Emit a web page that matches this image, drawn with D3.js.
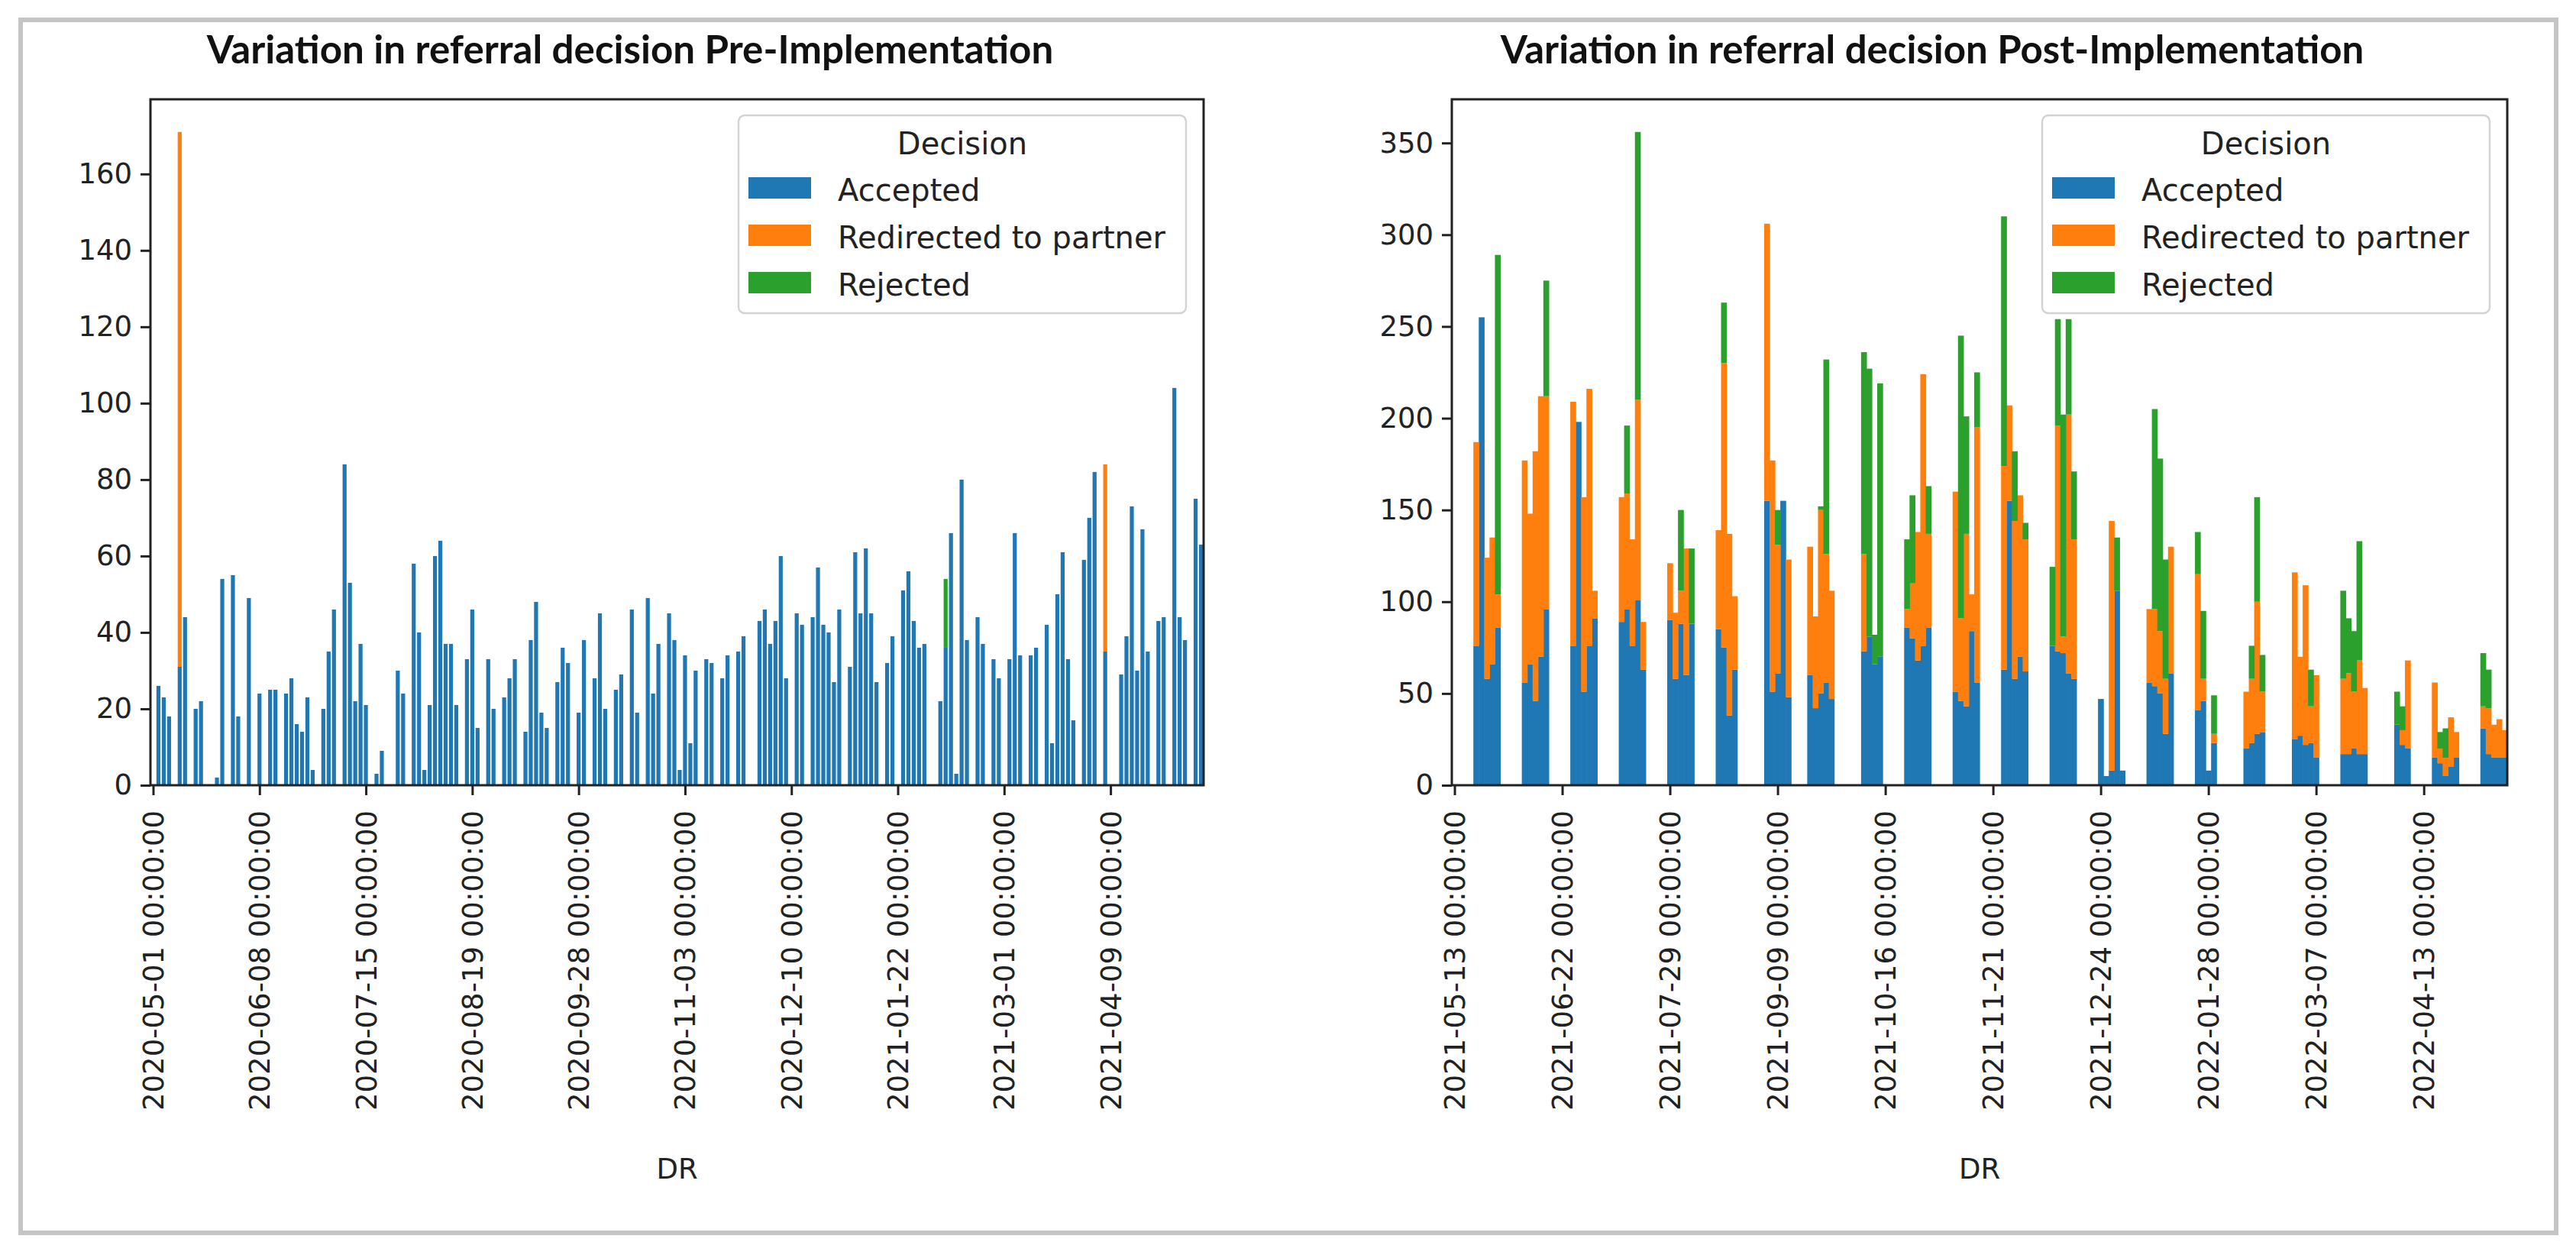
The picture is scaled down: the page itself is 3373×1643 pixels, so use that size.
<!DOCTYPE html>
<html>
<head>
<meta charset="utf-8">
<style>
    body { margin: 0; background: #fff; }
    svg { display: block; }
    .title { font-family: Lato, "Noto Sans", sans-serif; font-weight: bold; fill: #111; }
</style>
</head>
<body>
<svg id="chart"></svg>
<script src="https://cdn.jsdelivr.net/npm/d3@7"></script>
<script>
    const decisions = ["Accepted", "Redirected to partner", "Rejected"];
    const colors = ["#1f77b4", "#ff7f0e", "#2ca02c"];

    // Pre-Implementation: one value per date category (tick label every 20th category)
    const preTicks = ["2020-05-01 00:00:00", "2020-06-08 00:00:00", "2020-07-15 00:00:00", "2020-08-19 00:00:00",
        "2020-09-28 00:00:00", "2020-11-03 00:00:00", "2020-12-10 00:00:00", "2021-01-22 00:00:00",
        "2021-03-01 00:00:00", "2021-04-09 00:00:00"];
    const preAccepted = [
        0, 26, 23, 18, 0, 31, 44, 0, 20, 22, 0, 0, 2, 54, 0, 55, 18, 0, 49, 0,
        24, 0, 25, 25, 0, 24, 28, 16, 14, 23, 4, 0, 20, 35, 46, 0, 84, 53, 22, 37,
        21, 0, 3, 9, 0, 0, 30, 24, 0, 58, 40, 4, 21, 60, 64, 37, 37, 21, 0, 33,
        46, 15, 0, 33, 20, 0, 23, 28, 33, 0, 14, 38, 48, 19, 15, 0, 27, 36, 32, 0,
        19, 38, 0, 28, 45, 20, 0, 25, 29, 0, 46, 19, 0, 49, 24, 37, 0, 45, 38, 4,
        34, 11, 30, 0, 33, 32, 0, 28, 34, 0, 35, 39, 0, 0, 43, 46, 37, 43, 60, 28,
        0, 45, 42, 0, 44, 57, 42, 40, 27, 46, 0, 31, 61, 45, 62, 45, 27, 0, 32, 39,
        0, 51, 56, 43, 36, 37, 0, 0, 22, 36, 66, 3, 80, 38, 0, 44, 37, 0, 33, 28,
        0, 33, 66, 34, 0, 34, 36, 0, 42, 11, 50, 61, 33, 17, 0, 59, 70, 82, 0, 35,
        0, 0, 29, 39, 73, 30, 67, 35, 0, 43, 44, 0, 104, 44, 38, 0, 75, 63];
    const preRedirected = preAccepted.map(() => 0);
    preRedirected[5] = 140;
    preRedirected[179] = 49;
    const preRejected = preAccepted.map(() => 0);
    preRejected[149] = 18;

    // Post-Implementation
    const postTicks = ["2021-05-13 00:00:00", "2021-06-22 00:00:00", "2021-07-29 00:00:00", "2021-09-09 00:00:00",
        "2021-10-16 00:00:00", "2021-11-21 00:00:00", "2021-12-24 00:00:00", "2022-01-28 00:00:00",
        "2022-03-07 00:00:00", "2022-04-13 00:00:00"];
    const postAccepted = [
        0, 0, 0, 0, 76, 255, 58, 66, 86, 0, 0, 0, 0, 56, 66, 46, 70, 96, 0, 0,
        0, 0, 76, 198, 51, 76, 91, 0, 0, 0, 0, 89, 96, 76, 101, 63, 0, 0, 0, 0,
        90, 58, 88, 60, 88, 0, 0, 0, 0, 85, 75, 38, 63, 0, 0, 0, 0, 0, 155, 51,
        61, 155, 48, 0, 0, 0, 60, 42, 50, 56, 47, 0, 0, 0, 0, 0, 73, 81, 66, 70,
        0, 0, 0, 0, 86, 80, 68, 76, 86, 0, 0, 0, 0, 51, 46, 43, 84, 56, 0, 0,
        0, 0, 63, 155, 58, 70, 62, 0, 0, 0, 0, 76, 73, 72, 61, 58, 0, 0, 0, 0,
        47, 5, 8, 106, 8, 0, 0, 0, 0, 56, 54, 50, 28, 61, 0, 0, 0, 0, 41, 46,
        8, 23, 0, 0, 0, 0, 0, 20, 23, 28, 29, 0, 0, 0, 0, 0, 25, 27, 22, 23,
        15, 0, 0, 0, 0, 17, 17, 20, 17, 17, 0, 0, 0, 0, 0, 33, 22, 20, 0, 0,
        0, 0, 15, 12, 5, 10, 15, 0, 0, 0, 0, 31, 17, 15, 15, 15];
    const postRedirected = [
        0, 0, 0, 0, 111, 0, 66, 69, 18, 0, 0, 0, 0, 121, 82, 136, 142, 116, 0, 0,
        0, 0, 133, 0, 106, 140, 15, 0, 0, 0, 0, 68, 63, 58, 109, 26, 0, 0, 0, 0,
        31, 36, 18, 69, 0, 0, 0, 0, 0, 54, 155, 99, 40, 0, 0, 0, 0, 0, 151, 126,
        70, 0, 75, 0, 0, 0, 70, 50, 100, 70, 59, 0, 0, 0, 0, 0, 53, 0, 0, 0,
        0, 0, 0, 0, 10, 30, 70, 148, 51, 0, 0, 0, 0, 109, 45, 94, 20, 139, 0, 0,
        0, 0, 111, 52, 86, 88, 72, 0, 0, 0, 0, 0, 123, 9, 141, 76, 0, 0, 0, 0,
        0, 0, 136, 0, 0, 0, 0, 0, 0, 40, 42, 34, 30, 69, 0, 0, 0, 0, 74, 12,
        0, 5, 0, 0, 0, 0, 0, 31, 35, 72, 22, 0, 0, 0, 0, 0, 91, 43, 87, 20,
        45, 0, 0, 0, 0, 41, 44, 31, 51, 36, 0, 0, 0, 0, 0, 0, 8, 48, 0, 0,
        0, 0, 41, 8, 10, 27, 14, 0, 0, 0, 0, 12, 25, 18, 21, 15];
    const postRejected = [
        0, 0, 0, 0, 0, 0, 0, 0, 185, 0, 0, 0, 0, 0, 0, 0, 0, 63, 0, 0,
        0, 0, 0, 0, 0, 0, 0, 0, 0, 0, 0, 0, 37, 0, 146, 0, 0, 0, 0, 0,
        0, 0, 44, 0, 41, 0, 0, 0, 0, 0, 33, 0, 0, 0, 0, 0, 0, 0, 0, 0,
        19, 0, 0, 0, 0, 0, 0, 0, 2, 106, 0, 0, 0, 0, 0, 0, 110, 146, 16, 149,
        0, 0, 0, 0, 38, 48, 0, 0, 26, 0, 0, 0, 0, 0, 154, 64, 0, 30, 0, 0,
        0, 0, 136, 0, 38, 0, 9, 0, 0, 0, 0, 43, 58, 121, 52, 37, 0, 0, 0, 0,
        0, 0, 0, 29, 0, 0, 0, 0, 0, 0, 109, 94, 65, 0, 0, 0, 0, 0, 23, 37,
        0, 21, 0, 0, 0, 0, 0, 0, 18, 57, 20, 0, 0, 0, 0, 0, 0, 0, 0, 20,
        0, 0, 0, 0, 0, 48, 30, 33, 65, 0, 0, 0, 0, 0, 0, 18, 13, 0, 0, 0,
        0, 0, 0, 9, 16, 0, 0, 0, 0, 0, 0, 29, 21, 0, 0, 0];

    const W = 3373, H = 1643;
    const plotTop = 130, plotBottom = 1028;
    const ink = "#222";

    const svg = d3.select("#chart").attr("width", W).attr("height", H);

    // outer grey frame
    svg.append("rect")
        .attr("x", 27).attr("y", 26)
        .attr("width", 3320).attr("height", 1588)
        .attr("fill", "none")
        .attr("stroke", "#c4c4c4")
        .attr("stroke-width", 6);

    function panel(p) {
        const n = p.accepted.length;
        const rows = p.accepted.map((a, i) => ({
            i,
            "Accepted": a,
            "Redirected to partner": p.redirected[i],
            "Rejected": p.rejected[i]
        }));
        const layers = d3.stack().keys(decisions)(rows);
        const yMax = d3.max(rows, r => r["Accepted"] + r["Redirected to partner"] + r["Rejected"]) * 1.05;

        const x = d3.scaleLinear().domain([-0.5, n - 0.5]).range([p.left, p.right]);
        const y = d3.scaleLinear().domain([0, yMax]).range([plotBottom, plotTop]);
        const bw = x(p.barWidth) - x(0);

        const g = svg.append("g");

        // stacked bars
        g.selectAll("g.layer")
            .data(layers)
            .join("g")
            .attr("class", "layer")
            .attr("fill", (d, k) => colors[k])
            .selectAll("rect")
            .data(d => d.filter(s => s[1] > s[0]))
            .join("rect")
            .attr("x", s => x(s.data.i) - bw / 2)
            .attr("width", bw + p.overlap)
            .attr("y", s => y(s[1]))
            .attr("height", s => y(s[0]) - y(s[1]));

        // spines
        g.append("rect")
            .attr("x", p.left).attr("y", plotTop)
            .attr("width", p.right - p.left).attr("height", plotBottom - plotTop)
            .attr("fill", "none")
            .attr("stroke", ink)
            .attr("stroke-width", 3);

        // y axis
        const yAxis = g.append("g")
            .attr("transform", `translate(${p.left},0)`)
            .call(d3.axisLeft(y)
                .tickValues(d3.range(0, yMax, p.yStep))
                .tickSize(13)
                .tickPadding(11)
                .tickFormat(d3.format("d")));
        yAxis.select(".domain").remove();
        yAxis.attr("font-size", 37).attr("font-family", "DejaVu Sans");
        yAxis.selectAll("line").attr("stroke", ink).attr("stroke-width", 3);
        yAxis.selectAll("text").attr("fill", ink);

        // x axis, rotated date labels
        const xAxis = g.append("g")
            .attr("transform", `translate(0,${plotBottom})`)
            .call(d3.axisBottom(x)
                .tickValues(d3.range(0, n, 20))
                .tickSize(13)
                .tickFormat((d, k) => p.ticks[k]));
        xAxis.select(".domain").remove();
        xAxis.attr("font-size", 37).attr("font-family", "DejaVu Sans");
        xAxis.selectAll("line").attr("stroke", ink).attr("stroke-width", 3);
        xAxis.selectAll("text")
            .attr("fill", ink)
            .attr("transform", "rotate(-90)")
            .attr("text-anchor", "end")
            .attr("x", -33)
            .attr("y", 0)
            .attr("dy", "0.35em");

        // x label
        g.append("text")
            .attr("x", (p.left + p.right) / 2)
            .attr("y", 1543)
            .attr("text-anchor", "middle")
            .attr("font-family", "DejaVu Sans")
            .attr("font-size", 37)
            .attr("fill", ink)
            .text("DR");

        // title, sized to the width it has in the picture
        const title = g.append("text")
            .attr("class", "title")
            .attr("x", p.titleX)
            .attr("y", 83)
            .attr("text-anchor", "middle")
            .attr("font-size", 40)
            .text(p.title);
        const len = title.node().getComputedTextLength();
        title.attr("font-size", 40 * p.titleWidth / len);

        // legend
        const lgW = 586, lgH = 259;
        const lg = g.append("g")
            .attr("transform", `translate(${p.right - 23 - lgW},${plotTop + 21})`)
            .attr("font-family", "DejaVu Sans")
            .attr("font-size", 40);
        lg.append("rect")
            .attr("width", lgW).attr("height", lgH)
            .attr("rx", 8)
            .attr("fill", "#fff").attr("fill-opacity", 0.8)
            .attr("stroke", "#d3d3d3").attr("stroke-width", 2.5);
        lg.append("text")
            .attr("x", lgW / 2).attr("y", 51)
            .attr("text-anchor", "middle")
            .attr("fill", ink)
            .text("Decision");
        const items = lg.selectAll("g.item")
            .data(decisions)
            .join("g")
            .attr("class", "item")
            .attr("transform", (d, k) => `translate(0,${95 + k * 62})`);
        items.append("rect")
            .attr("x", 13).attr("y", -14)
            .attr("width", 82).attr("height", 28)
            .attr("fill", (d, k) => colors[k]);
        items.append("text")
            .attr("x", 130)
            .attr("dy", "0.42em")
            .attr("fill", ink)
            .text(d => d);
    }

    panel({
        left: 197, right: 1576,
        accepted: preAccepted, redirected: preRedirected, rejected: preRejected,
        ticks: preTicks, yStep: 20, barWidth: 0.75, overlap: 0,
        title: "Variation in referral decision Pre-Implementation",
        titleX: 825, titleWidth: 1109
    });

    panel({
        left: 1901, right: 3283,
        accepted: postAccepted, redirected: postRedirected, rejected: postRejected,
        ticks: postTicks, yStep: 50, barWidth: 1, overlap: 0.6,
        title: "Variation in referral decision Post-Implementation",
        titleX: 2530, titleWidth: 1131
    });
</script>
</body>
</html>
